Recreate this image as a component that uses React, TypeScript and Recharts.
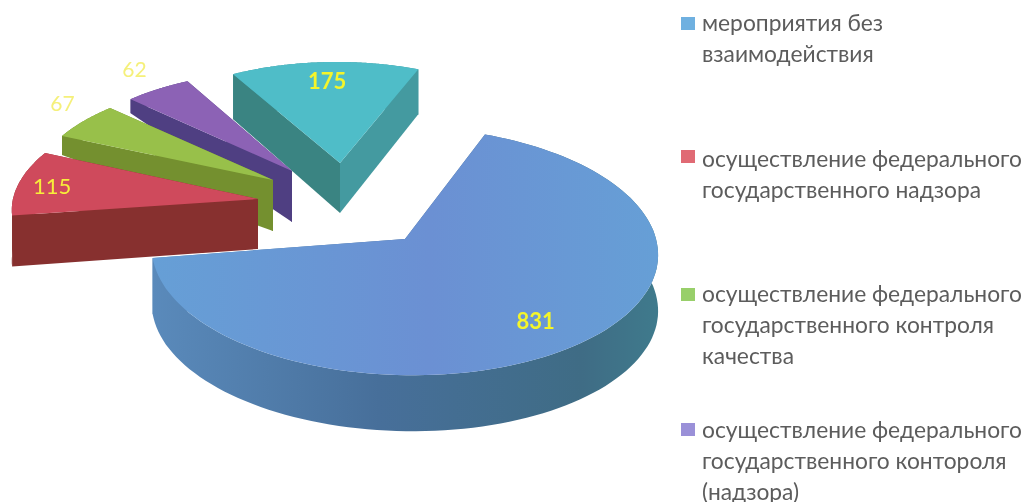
import { Legend, Pie, PieChart } from "recharts";

const categories = [
  "мероприятия без взаимодействия",
  "осуществление федерального государственного надзора",
  "осуществление федерального государственного контроля качества",
  "осуществление федерального государственного контороля (надзора)",
  "",
];
const values = [831, 115, 67, 62, 175];

const legendLines = [
  ["мероприятия без", "взаимодействия"],
  ["осуществление федерального", "государственного надзора"],
  ["осуществление федерального", "государственного контроля", "качества"],
  ["осуществление федерального", "государственного контороля", "(надзора)"],
];
const legendSwatches = ["#6fb0e0", "#e06a74", "#98cf6a", "#9a90d8"];
const legendTops = [7, 143, 278, 414];
const swatchTops = [10, 7, 10, 9];

// how each slice is exploded and tilted; same order as the values
const tilts = [
  { dx: 0, dy: 0, a: 252, b: -1, c: 4.3, d: 123, k: 0.097, near: 56, far: 56 },
  { dx: -147, dy: -40, a: 244, b: -33, c: 4, d: 111, k: 0, near: 50, far: 51 },
  { dx: -132, dy: -59, a: 237, b: -21, c: 5.5, d: 102, k: 0, near: 51, far: 19 },
  { dx: -113, dy: -68, a: 227, b: -12, c: 7, d: 100, k: 0, near: 51, far: 14 },
  { dx: -65, dy: -76, a: 218, b: -4, c: 3.4, d: 101, k: 0, near: 50, far: 45 },
];
const tops = ["url(#blueTop)", "#cf4a5c", "#98c04a", "#8c62b5", "#4fbdc8"];
const walls = ["url(#blueWall)", "#87302f", "#74902f", "#4f3f82", "#449aa0"];
const faces = ["url(#blueWall)", "#87302f", "#74902f", "#4f3f82", "#3a8482"];
const labelSpots = [
  { t: 0.76, lift: 4, color: "#f4f52a", weight: 700, size: 22 },
  { t: 0.86, lift: 0, color: "#f7ee3a", weight: 400, size: 22 },
  { t: 1.11, lift: -12, color: "#f5f07a", weight: 400, size: 21 },
  { t: 1.17, lift: -7, color: "#f5f07a", weight: 400, size: 21 },
  { t: 0.82, lift: 0, color: "#f4f52a", weight: 700, size: 22 },
];

const rows = values.map((value, i) => ({ name: categories[i], value, slot: i }));
// reversed and counter-clockwise, so the big slice paints last and stays on top
const pieRows = [...rows].reverse();

function project(angle: number, t: number, slot: number, cx: number, cy: number) {
  const p = tilts[slot];
  const rad = (angle * Math.PI) / 180;
  const ux = Math.cos(rad) * t;
  const uy = -Math.sin(rad) * t;
  const w = 1 - p.k * uy;
  return {
    x: cx + p.dx + (p.a * ux + p.b * uy) / w,
    y: cy + p.dy + (p.c * ux + p.d * uy) / w,
  };
}

function toPath(points: { x: number; y: number }[]) {
  return points.map((q, i) => `${i ? "L" : "M"}${q.x.toFixed(1)} ${q.y.toFixed(1)}`).join(" ") + " Z";
}

function TiltedSlice(props: any) {
  const { cx, cy, startAngle, endAngle, payload } = props;
  const slot = payload.slot;
  const { near, far } = tilts[slot];
  const arc: { x: number; y: number }[] = [];
  for (let i = 0; i <= 120; i++) {
    arc.push(project(startAngle + ((endAngle - startAngle) * i) / 120, 1, slot, cx, cy));
  }
  const apex = project(startAngle, 0, slot, cx, cy);
  const first = arc[0];
  const last = arc[arc.length - 1];
  const drop = (q: { x: number; y: number }, d: number) => ({ x: q.x, y: q.y + d });
  return (
    <g>
      <path d={toPath([...arc, ...arc.map((q) => drop(q, far)).reverse()])} fill={walls[slot]} />
      <path d={toPath([apex, first, drop(first, far), drop(apex, near)])} fill={walls[slot]} />
      <path d={toPath([apex, last, drop(last, far), drop(apex, near)])} fill={faces[slot]} />
      <path d={toPath([apex, ...arc])} fill={tops[slot]} />
    </g>
  );
}

function SliceLabel(props: any) {
  const { cx, cy, midAngle, value, payload } = props;
  const spot = labelSpots[payload.slot];
  const q = project(midAngle, spot.t, payload.slot, cx, cy);
  return (
    <text
      x={q.x}
      y={q.y + spot.lift}
      textAnchor="middle"
      dominantBaseline="central"
      fill={spot.color}
      fontFamily="Lato, sans-serif"
      fontSize={spot.size}
      fontWeight={spot.weight}
    >
      {value}
    </text>
  );
}

function LegendBody() {
  return (
    <div style={{ position: "relative", width: 351, height: 502, fontFamily: "Lato, sans-serif" }}>
      {legendLines.map((lines, i) => (
        <div key={i} style={{ position: "absolute", left: 0, top: legendTops[i] }}>
          <div
            style={{
              position: "absolute",
              left: 8,
              top: swatchTops[i],
              width: 14,
              height: 13,
              background: legendSwatches[i],
            }}
          />
          <div
            style={{
              marginLeft: 29,
              fontSize: 22.8,
              lineHeight: "31px",
              color: "#5c5c5c",
              whiteSpace: "nowrap",
            }}
          >
            {lines.map((line) => (
              <div key={line}>{line}</div>
            ))}
          </div>
        </div>
      ))}
    </div>
  );
}

export default function App() {
  return (
    <div
      style={{
        position: "fixed",
        left: 0,
        top: 0,
        width: 1024,
        height: 502,
        overflow: "hidden",
        background: "#fff",
        filter: "blur(0.4px)",
      }}
    >
      <PieChart width={1024} height={502} margin={{ top: 0, right: 0, bottom: 0, left: 0 }}>
        <defs>
          <linearGradient id="blueTop" x1="0" y1="0" x2="1" y2="0">
            <stop offset="0%" stopColor="#669fd6" />
            <stop offset="55%" stopColor="#6b90d3" />
            <stop offset="100%" stopColor="#669fd6" />
          </linearGradient>
          <linearGradient id="blueWall" gradientUnits="userSpaceOnUse" x1="152" y1="0" x2="657" y2="0">
            <stop offset="0%" stopColor="#5a8abb" />
            <stop offset="45%" stopColor="#476f9a" />
            <stop offset="85%" stopColor="#3f6c85" />
            <stop offset="100%" stopColor="#3f7a8c" />
          </linearGradient>
        </defs>
        <Pie
          data={pieRows}
          dataKey="value"
          nameKey="name"
          cx={405}
          cy={239}
          outerRadius={100}
          startAngle={70}
          endAngle={430}
          stroke="none"
          shape={TiltedSlice}
          label={SliceLabel}
          labelLine={false}
          isAnimationActive={false}
        />
        <Legend
          layout="vertical"
          align="right"
          verticalAlign="top"
          wrapperStyle={{ left: 673, top: 0, width: 351 }}
          content={LegendBody}
        />
      </PieChart>
    </div>
  );
}
